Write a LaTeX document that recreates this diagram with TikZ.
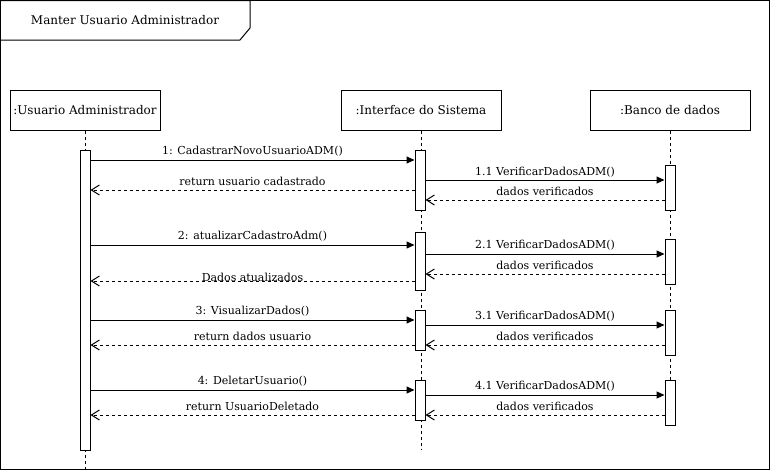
\documentclass[tikz,border=0pt]{standalone}
\usepackage{fontspec}
\setmainfont{DejaVu Serif}
\usetikzlibrary{arrows.meta}
\begin{document}
\begin{tikzpicture}[x=1pt,y=-1pt,line width=1pt,
  head/.style={draw,minimum width=150pt,minimum height=40pt,inner sep=0pt,font=\fontsize{12}{14}\selectfont},
  bar/.style={draw,fill=white,minimum width=10pt,inner sep=0pt,anchor=north},
  life/.style={dash pattern=on 3pt off 3pt},
  call/.style={-{Triangle[length=8pt,width=7pt]}},
  ret/.style={dash pattern=on 3pt off 3pt,-{Straight Barb[length=8pt,width=10pt]}},
  lbl/.style={font=\fontsize{11}{13}\selectfont,inner sep=0pt,fill=none}]
\useasboundingbox (0,0) rectangle (771,471);
% frame
\draw (0.5,0.5) rectangle (769.5,469.5);
\draw (0.5,0.5) -- (250,0.5) -- (250,28) -- (240,40) -- (0.5,40);
\node[font=\fontsize{12}{14}\selectfont] (title) at (125,20) {Manter Usuario Administrador};
% heads
\node[head,minimum width=150pt] (ua) at (85,110) {:Usuario Administrador};
\node[head,minimum width=160pt] (si) at (421,110) {:Interface do Sistema};
\node[head,minimum width=160pt] (db) at (670,110) {:Banco de dados};
% lifelines
\coordinate (uaend) at (85,469.5);
\coordinate (siend) at (421,450);
\coordinate (dbend) at (670,425);
\draw[life] (ua.south) -- (uaend);
\draw[life] (si.south) -- (siend);
\draw[life] (db.south) -- (dbend);
% activation bars
\node[bar,minimum height=300pt] (uab) at (85,150) {};
\node[bar,minimum height=60pt] (sib1) at (420,150) {};
\node[bar,minimum height=58pt] (sib2) at (420,232) {};
\node[bar,minimum height=40pt] (sib3) at (420,310) {};
\node[bar,minimum height=40pt] (sib4) at (420,380) {};
\node[bar,minimum height=45pt] (dbb1) at (670,165) {};
\node[bar,minimum height=45pt] (dbb2) at (670,239) {};
\node[bar,minimum height=45pt] (dbb3) at (670,310) {};
\node[bar,minimum height=45pt] (dbb4) at (670,380) {};
% messages 1
\draw[call] (uab.east |- 0,160) -- (sib1.west |- 0,160) node[lbl,midway,yshift=8.5pt] (l1) {1: CadastrarNovoUsuarioADM()};
\draw[call] (sib1.east |- 0,180) -- (dbb1.west |- 0,180) node[lbl,midway,yshift=8pt] (l11) {1.1 VerificarDadosADM()};
\draw[ret] (sib1.west |- 0,190) -- (uab.east |- 0,190) node[lbl,midway,yshift=8.5pt] (r1) {return usuario cadastrado};
\draw[ret] (dbb1.west |- 0,200) -- (sib1.east |- 0,200) node[lbl,midway,yshift=9pt] (r11) {dados verificados};
% messages 2
\draw[call] (uab.east |- 0,245) -- (sib2.west |- 0,245) node[lbl,midway,yshift=9pt] (l2) {2: atualizarCadastroAdm()};
\draw[call] (sib2.east |- 0,254) -- (dbb2.west |- 0,254) node[lbl,midway,yshift=9pt] (l21) {2.1 VerificarDadosADM()};
\draw[ret] (dbb2.west |- 0,274) -- (sib2.east |- 0,274) node[lbl,midway,yshift=9pt] (r21) {dados verificados};
\draw[ret] (sib2.west |- 0,281) -- (uab.east |- 0,281) node[lbl,midway,yshift=3.5pt] (r2) {Dados atualizados};
% messages 3
\draw[call] (uab.east |- 0,320) -- (sib3.west |- 0,320) node[lbl,midway,yshift=9pt] (l3) {3: VisualizarDados()};
\draw[call] (sib3.east |- 0,325) -- (dbb3.west |- 0,325) node[lbl,midway,yshift=9pt] (l31) {3.1 VerificarDadosADM()};
\draw[ret] (sib3.west |- 0,345) -- (uab.east |- 0,345) node[lbl,midway,yshift=9pt] (r3) {return dados usuario};
\draw[ret] (dbb3.west |- 0,345) -- (sib3.east |- 0,345) node[lbl,midway,yshift=9pt] (r31) {dados verificados};
% messages 4
\draw[call] (uab.east |- 0,390) -- (sib4.west |- 0,390) node[lbl,midway,yshift=9pt] (l4) {4: DeletarUsuario()};
\draw[call] (sib4.east |- 0,395) -- (dbb4.west |- 0,395) node[lbl,midway,yshift=9pt] (l41) {4.1 VerificarDadosADM()};
\draw[ret] (sib4.west |- 0,415) -- (uab.east |- 0,415) node[lbl,midway,yshift=9pt] (r4) {return UsuarioDeletado};
\draw[ret] (dbb4.west |- 0,415) -- (sib4.east |- 0,415) node[lbl,midway,yshift=9pt] (r41) {dados verificados};
\end{tikzpicture}
\end{document}
